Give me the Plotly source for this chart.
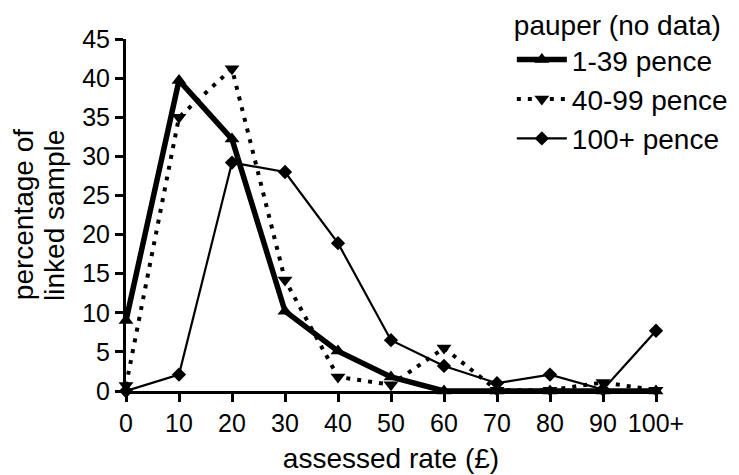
import plotly.graph_objects as go

categories = [0, 10, 20, 30, 40, 50, 60, 70, 80, 90, 100]
tick_labels = ["0", "10", "20", "30", "40", "50", "60", "70", "80", "90", "100+"]
pence_1_39 = [9.0, 39.7, 32.2, 10.2, 5.1, 1.8, 0, 0, 0, 0, 0]
pence_40_99 = [0.7, 35.0, 41.2, 14.2, 1.8, 0.8, 5.5, 0.1, 0.1, 1.1, 0.1]
pence_100 = [0, 2.1, 29.2, 28.0, 18.9, 6.5, 3.2, 1.0, 2.1, 0.2, 7.7]
y_ticks = [0, 5, 10, 15, 20, 25, 30, 35, 40, 45]
y_title_lines = ["percentage of", "linked sample"]

FONT = "Liberation Sans, Arial, sans-serif"

fig = go.Figure()
fig.add_trace(go.Scatter(
    x=categories, y=pence_1_39, name="1-39 pence", mode="lines+markers",
    line=dict(color="black", width=5.5),
    marker=dict(symbol="triangle-up", size=13, color="black"),
    cliponaxis=False,
))
fig.add_trace(go.Scatter(
    x=categories, y=pence_40_99, name="40-99 pence", mode="lines+markers",
    line=dict(color="black", width=4, dash="4px,7px"),
    marker=dict(symbol="triangle-down", size=13, color="black"),
    cliponaxis=False,
))
fig.add_trace(go.Scatter(
    x=categories, y=pence_100, name="100+ pence", mode="lines+markers",
    line=dict(color="black", width=2.2),
    marker=dict(symbol="diamond", size=11, color="black"),
    cliponaxis=False,
))

# two-line rotated y-axis title, placed as annotations for tighter line spacing
for xpos, txt in zip([-0.194, -0.136], y_title_lines):
    fig.add_annotation(
        text=txt, xref="paper", yref="paper", x=xpos, y=0.5,
        xanchor="center", yanchor="middle", textangle=-90, showarrow=False,
        font=dict(size=28, family=FONT, color="black"),
    )

fig.update_layout(
    width=739, height=475,
    margin=dict(l=126, r=83, t=39, b=84, autoexpand=False),
    paper_bgcolor="white", plot_bgcolor="white",
    font=dict(family=FONT, color="black", size=24),
    showlegend=True,
    legend=dict(
        x=0.728, xanchor="left", y=1.115, yanchor="top",
        font=dict(size=28, family=FONT, color="black"),
        title=dict(text="pauper (no data)", font=dict(size=28, family=FONT, color="black")),
        itemwidth=50, bgcolor="rgba(0,0,0,0)", tracegroupgap=0,
    ),
    xaxis=dict(
        range=[0, 100], tickvals=categories, ticktext=tick_labels,
        showline=True, linecolor="black", linewidth=3,
        ticks="outside", ticklen=8, tickwidth=3, tickcolor="black",
        showgrid=False, zeroline=False,
        tickfont=dict(size=25, family=FONT),
        title=dict(text="assessed rate (£)", font=dict(size=28, family=FONT), standoff=13),
    ),
    yaxis=dict(
        range=[0, 45], tickvals=y_ticks,
        showline=True, linecolor="black", linewidth=3,
        ticks="outside", ticklen=8, tickwidth=3, tickcolor="black",
        showgrid=False, zeroline=False,
        tickfont=dict(size=25, family=FONT),
    ),
)

fig.write_html("out.html", config={"displayModeBar": False},
               post_script="document.body.style.margin='0';")
